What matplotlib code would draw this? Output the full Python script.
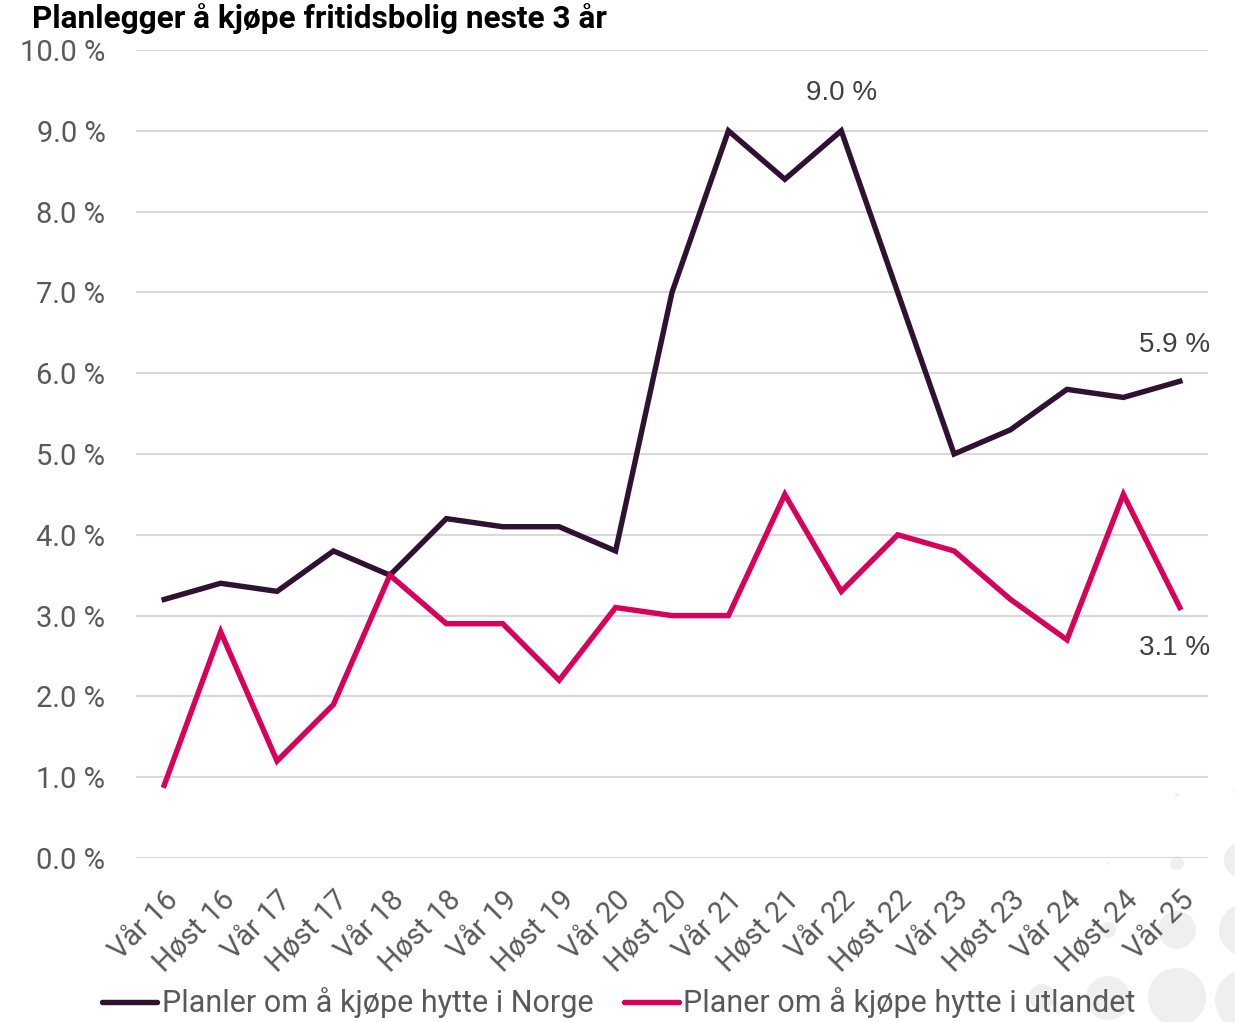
import matplotlib
matplotlib.use("Agg")
import matplotlib.pyplot as plt
from matplotlib.patches import Circle
from matplotlib.lines import Line2D

periods = ["Vår 16", "Høst 16", "Vår 17", "Høst 17", "Vår 18", "Høst 18", "Vår 19",
           "Høst 19", "Vår 20", "Høst 20", "Vår 21", "Høst 21", "Vår 22", "Høst 22",
           "Vår 23", "Høst 23", "Vår 24", "Høst 24", "Vår 25"]
norge = [3.2, 3.4, 3.3, 3.8, 3.5, 4.2, 4.1, 4.1, 3.8, 7.0, 9.0, 8.4, 9.0, 7.0,
         5.0, 5.3, 5.8, 5.7, 5.9]
utland = [0.9, 2.8, 1.2, 1.9, 3.5, 2.9, 2.9, 2.2, 3.1, 3.0, 3.0, 4.5, 3.3, 4.0,
          3.8, 3.2, 2.7, 4.5, 3.1]
yticks = [0, 1, 2, 3, 4, 5, 6, 7, 8, 9, 10]
series_names = ["Planler om å kjøpe hytte i Norge", "Planer om å kjøpe hytte i utlandet"]

c_norge = "#2F1232"
c_utland = "#D8005A"
grey = "#595959"

fig = plt.figure(figsize=(12.35, 10.22), dpi=100)

# decorative faint circles (bottom-right), behind everything
circles = [(1177, 863, 7), (1177, 930, 19), (1177, 997, 29), (1108, 930, 8),
           (1108, 998, 22), (1042, 997, 13), (1242, 860, 18), (1245, 930, 26),
           (1245, 1000, 30), (1177, 795, 2), (1108, 863, 1.5), (1240, 790, 6)]
for cx, cy, r in circles:
    fig.patches.append(Circle((cx / 100, (1022 - cy) / 100), r / 100,
                              transform=fig.dpi_scale_trans, facecolor="#efefef",
                              edgecolor="none", zorder=-5))

ax = fig.add_axes([136 / 1235, 1 - 858 / 1022, (1208 - 136) / 1235, (858 - 50) / 1022])
ax.set_zorder(2)
ax.set_facecolor("none")
x = list(range(len(periods)))
ax.plot(x, norge, color=c_norge, lw=3.9, solid_joinstyle="miter", zorder=3)
ax.plot(x, utland, color=c_utland, lw=3.9, solid_joinstyle="miter", zorder=3)

ax.set_xlim(-0.5, len(periods) - 0.5)
ax.set_ylim(0, 10)
ax.set_yticks(yticks)
ax.set_yticklabels([f"{v:.1f} %" for v in yticks], fontsize=21, color=grey,
                   family="Roboto")
ax.set_xticks(x)
ax.set_xticklabels(periods, rotation=45, ha="right", rotation_mode="anchor",
                   fontsize=21, color=grey, family="Roboto")
ax.tick_params(axis="both", length=0)
ax.tick_params(axis="y", pad=22)
ax.tick_params(axis="x", pad=20)
ax.grid(axis="y", color="#d9d9d9", lw=1.5)
ax.set_axisbelow(True)
for s in ax.spines.values():
    s.set_visible(False)

# data labels
lbl = dict(textcoords="offset points", ha="center", va="center", fontsize=20,
           color="#404040", family="Liberation Sans")
ax.annotate(f"{norge[12]:.1f} %", (12, norge[12]), xytext=(0, 27), **lbl)
ax.annotate(f"{norge[-1]:.1f} %", (18, norge[-1]), xytext=(-4, 26), **lbl)
ax.annotate(f"{utland[-1]:.1f} %", (18, utland[-1]), xytext=(-4, -29), **lbl)

fig.text(32 / 1235, 1 - 19 / 1022, "Planlegger å kjøpe fritidsbolig neste 3 år",
         fontsize=22.7, fontweight="bold", family="Roboto", color="black",
         ha="left", va="center")

handles = [Line2D([0], [0], color=c_norge, lw=3.9, solid_capstyle="round"),
           Line2D([0], [0], color=c_utland, lw=3.9, solid_capstyle="round")]
leg = fig.legend(handles, series_names, loc="center", bbox_to_anchor=(619 / 1235, 1 - 1003 / 1022),
                 ncol=2, frameon=False, handlelength=1.8, handletextpad=0.15,
                 columnspacing=1.0, prop={"family": "Roboto", "size": 22})
for t in leg.get_texts():
    t.set_color(grey)

fig.savefig("out.png", dpi=100)
